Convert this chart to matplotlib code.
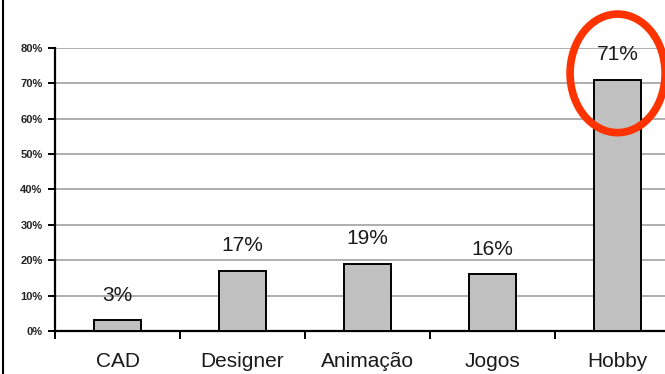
import matplotlib
matplotlib.use("Agg")
import matplotlib.pyplot as plt
from matplotlib.patches import Ellipse
from matplotlib.lines import Line2D
import numpy as np

# uso do software por categoria (%)
categorias = ["CAD", "Designer", "Animação", "Jogos", "Hobby"]
valores = [3, 17, 19, 16, 71]
rotulos = ["3%", "17%", "19%", "16%", "71%"]
yticks = [0, 10, 20, 30, 40, 50, 60, 70, 80]
yrotulos = ["0%", "10%", "20%", "30%", "40%", "50%", "60%", "70%", "80%"]

plt.rcParams["font.family"] = ["Liberation Sans", "DejaVu Sans"]

fig = plt.figure(figsize=(6.65, 3.74), dpi=100)
ax = fig.add_axes([0.0827, 0.115, 0.94, 0.757])

x = np.arange(len(categorias))
ax.bar(x, valores, width=0.38, color="#c0c0c0", edgecolor="black", linewidth=1.4, zorder=3)

# valores em cima das barras
for xi, v, r in zip(x, valores, rotulos):
    ax.annotate(r, (xi, v), xytext=(0, 18), textcoords="offset points",
                ha="center", va="center", fontsize=15, color="#1a1a1a")

ax.set_xlim(-0.5, 4.5)
ax.set_ylim(0, 80)
ax.set_yticks(yticks)
ax.set_yticklabels(yrotulos, fontsize=8, fontweight="bold", color="#222222")
ax.yaxis.grid(True, color="#a8a8a8", linewidth=1.3, zorder=0)
ax.set_axisbelow(True)

# marcas do eixo x entre as categorias, nomes no centro
ax.set_xticks(np.arange(-0.5, 5, 1))
ax.set_xticklabels([])
ax.set_xticks(x, minor=True)
ax.set_xticklabels(categorias, minor=True, fontsize=15, color="#1a1a1a")
ax.tick_params(axis="x", which="major", direction="out", length=6, width=1.4)
ax.tick_params(axis="x", which="minor", length=0, pad=15)
ax.tick_params(axis="y", direction="out", length=5, width=1.4, pad=4)

for s in ["top", "right"]:
    ax.spines[s].set_visible(False)
ax.spines["left"].set_linewidth(1.6)
ax.spines["bottom"].set_linewidth(1.6)

# destaque no Hobby
ax.add_patch(Ellipse((4, 72.8), 0.76, 33.5, fill=False, edgecolor="#ff3300",
                     linewidth=5.5, clip_on=False, zorder=5))

fig.add_artist(Line2D([0.004, 0.004], [0, 1], color="black", linewidth=1.5))

fig.savefig("out.png", dpi=100)
